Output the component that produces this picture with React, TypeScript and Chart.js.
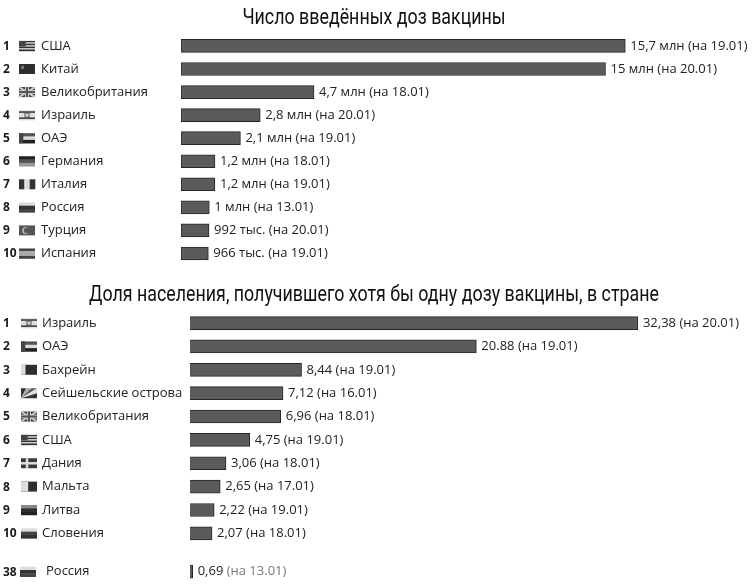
import { useEffect, useRef } from "react";
import { Chart, registerables } from "chart.js";

Chart.register(...registerables);

// Число введённых доз вакцины
const dosesRanks = ["1", "2", "3", "4", "5", "6", "7", "8", "9", "10"];
const dosesCountries = [
  "США",
  "Китай",
  "Великобритания",
  "Израиль",
  "ОАЭ",
  "Германия",
  "Италия",
  "Россия",
  "Турция",
  "Испания",
];
// млн доз
const dosesValues = [15.7, 15, 4.7, 2.8, 2.1, 1.2, 1.2, 1, 0.992, 0.966];
const dosesTexts = [
  "15,7 млн (на 19.01)",
  "15 млн (на 20.01)",
  "4,7 млн (на 18.01)",
  "2,8 млн (на 20.01)",
  "2,1 млн (на 19.01)",
  "1,2 млн (на 18.01)",
  "1,2 млн (на 19.01)",
  "1 млн (на 13.01)",
  "992 тыс. (на 20.01)",
  "966 тыс. (на 19.01)",
];

// Доля населения, получившего хотя бы одну дозу (%)
const shareRanks = ["1", "2", "3", "4", "5", "6", "7", "8", "9", "10"];
const shareCountries = [
  "Израиль",
  "ОАЭ",
  "Бахрейн",
  "Сейшельские острова",
  "Великобритания",
  "США",
  "Дания",
  "Мальта",
  "Литва",
  "Словения",
];
const shareValues = [32.38, 20.88, 8.44, 7.12, 6.96, 4.75, 3.06, 2.65, 2.22, 2.07];
const shareTexts = [
  "32,38 (на 20.01)",
  "20.88 (на 19.01)",
  "8,44 (на 19.01)",
  "7,12 (на 16.01)",
  "6,96 (на 18.01)",
  "4,75 (на 19.01)",
  "3,06 (на 18.01)",
  "2,65 (на 17.01)",
  "2,22 (на 19.01)",
  "2,07 (на 18.01)",
];

const russiaRanks = ["38"];
const russiaCountries = ["Россия"];
const russiaValues = [0.69];
const russiaTexts = ["0,69 (на 13.01)"];

const TITLE_FONT = "Roboto, 'DejaVu Sans Condensed', sans-serif";
const LABEL_FONT = "'Open Sans', 'Noto Sans', sans-serif";

type Ctx = CanvasRenderingContext2D;

function hStripes(ctx: Ctx, x: number, y: number, w: number, h: number, cols: string[], weights?: number[]) {
  const ws = weights || cols.map(() => 1);
  const total = ws.reduce((a, b) => a + b, 0);
  let cy = y;
  cols.forEach((c, i) => {
    const sh = (h * ws[i]) / total;
    ctx.fillStyle = c;
    ctx.fillRect(x, cy, w, sh + 0.3);
    cy += sh;
  });
}

function vStripes(ctx: Ctx, x: number, y: number, w: number, h: number, cols: string[]) {
  const sw = w / cols.length;
  cols.forEach((c, i) => {
    ctx.fillStyle = c;
    ctx.fillRect(x + i * sw, y, sw + 0.3, h);
  });
}

// rough grayscale flags
function drawFlag(ctx: Ctx, name: string, x: number, y: number, w: number, h: number) {
  ctx.save();
  switch (name) {
    case "США":
      hStripes(ctx, x, y, w, h, ["#333", "#ccc", "#333", "#ccc", "#333", "#ccc", "#333"]);
      ctx.fillStyle = "#444";
      ctx.fillRect(x, y, w * 0.42, h * 0.55);
      break;
    case "Китай":
      ctx.fillStyle = "#2e2e2e";
      ctx.fillRect(x, y, w, h);
      ctx.fillStyle = "#777";
      ctx.fillRect(x + 2, y + 2, 3, 3);
      break;
    case "Великобритания":
      ctx.fillStyle = "#3a3a3a";
      ctx.fillRect(x, y, w, h);
      ctx.strokeStyle = "#ccc";
      ctx.lineWidth = 2;
      ctx.beginPath();
      ctx.moveTo(x, y);
      ctx.lineTo(x + w, y + h);
      ctx.moveTo(x + w, y);
      ctx.lineTo(x, y + h);
      ctx.stroke();
      ctx.fillStyle = "#ccc";
      ctx.fillRect(x + w / 2 - 2, y, 4, h);
      ctx.fillRect(x, y + h / 2 - 2, w, 4);
      ctx.fillStyle = "#555";
      ctx.fillRect(x + w / 2 - 1, y, 2, h);
      ctx.fillRect(x, y + h / 2 - 1, w, 2);
      break;
    case "Израиль":
      hStripes(ctx, x, y, w, h, ["#ddd", "#444", "#ddd", "#444", "#ddd"], [1, 1.5, 4, 1.5, 1]);
      ctx.strokeStyle = "#555";
      ctx.lineWidth = 1;
      ctx.strokeRect(x + w / 2 - 2, y + h / 2 - 2, 4, 4);
      break;
    case "ОАЭ":
      hStripes(ctx, x, y, w, h, ["#555", "#ddd", "#222"]);
      ctx.fillStyle = "#444";
      ctx.fillRect(x, y, w * 0.27, h);
      break;
    case "Германия":
      hStripes(ctx, x, y, w, h, ["#222", "#555", "#999"]);
      break;
    case "Италия":
      vStripes(ctx, x, y, w, h, ["#333", "#ddd", "#333"]);
      break;
    case "Россия":
      hStripes(ctx, x, y, w, h, ["#ddd", "#333", "#444"]);
      break;
    case "Турция":
      ctx.fillStyle = "#555";
      ctx.fillRect(x, y, w, h);
      ctx.fillStyle = "#bbb";
      ctx.beginPath();
      ctx.arc(x + w * 0.42, y + h / 2, 3.5, 0, Math.PI * 2);
      ctx.fill();
      ctx.fillStyle = "#555";
      ctx.beginPath();
      ctx.arc(x + w * 0.49, y + h / 2, 2.8, 0, Math.PI * 2);
      ctx.fill();
      break;
    case "Испания":
      hStripes(ctx, x, y, w, h, ["#444", "#aaa", "#444"], [1, 2, 1]);
      break;
    case "Бахрейн":
      ctx.fillStyle = "#2e2e2e";
      ctx.fillRect(x, y, w, h);
      ctx.fillStyle = "#ddd";
      ctx.fillRect(x, y, w * 0.28, h);
      break;
    case "Сейшельские острова": {
      const cols = ["#333", "#aaa", "#555", "#ddd", "#333"];
      const pts: [number, number][] = [
        [x, y],
        [x + w * 0.33, y],
        [x + w * 0.66, y],
        [x + w, y],
        [x + w, y + h * 0.5],
        [x + w, y + h],
      ];
      for (let i = 0; i < 5; i++) {
        ctx.fillStyle = cols[i];
        ctx.beginPath();
        ctx.moveTo(x, y + h);
        ctx.lineTo(pts[i][0], pts[i][1]);
        ctx.lineTo(pts[i + 1][0], pts[i + 1][1]);
        ctx.closePath();
        ctx.fill();
      }
      break;
    }
    case "Дания":
      ctx.fillStyle = "#3a3a3a";
      ctx.fillRect(x, y, w, h);
      ctx.fillStyle = "#ddd";
      ctx.fillRect(x + w * 0.3, y, 2.5, h);
      ctx.fillRect(x, y + h / 2 - 1.2, w, 2.5);
      break;
    case "Мальта":
      ctx.fillStyle = "#2e2e2e";
      ctx.fillRect(x, y, w, h);
      ctx.fillStyle = "#ddd";
      ctx.fillRect(x, y, w * 0.45, h);
      break;
    case "Литва":
      hStripes(ctx, x, y, w, h, ["#888", "#2e2e2e", "#222"]);
      break;
    case "Словения":
      hStripes(ctx, x, y, w, h, ["#ddd", "#444", "#333"]);
      break;
    default:
      ctx.fillStyle = "#555";
      ctx.fillRect(x, y, w, h);
  }
  ctx.restore();
}

const rowLabels = {
  id: "rowLabels",
  afterDatasetsDraw(chart: any, _args: any, opts: any) {
    const { ctx } = chart;
    const meta = chart.getDatasetMeta(0);
    const yScale = chart.scales.y;
    ctx.save();
    ctx.textBaseline = "middle";
    ctx.textAlign = "left";
    meta.data.forEach((bar: any, i: number) => {
      const y = yScale.getPixelForValue(i);
      ctx.fillStyle = "#1a1a1a";
      ctx.font = `bold 12px ${LABEL_FONT}`;
      ctx.fillText(opts.ranks[i], opts.rankX, y + 0.5);
      drawFlag(ctx, opts.names[i], opts.flagX, y - 5, 16, 10);
      ctx.fillStyle = "#222";
      ctx.font = `13px ${LABEL_FONT}`;
      ctx.fillText(opts.names[i], opts.nameX, y);
      // value, then the date part (может быть светлее)
      const text: string = opts.texts[i];
      const cut = text.indexOf(" (");
      const head = text.slice(0, cut);
      const tail = text.slice(cut);
      const tx = bar.x + 5;
      ctx.fillText(head, tx, y);
      ctx.fillStyle = opts.dateColor || "#222";
      ctx.fillText(tail, tx + ctx.measureText(head).width, y);
    });
    ctx.restore();
  },
};

// title centred on the whole canvas, drawn condensed
const blockTitle = {
  id: "blockTitle",
  afterDraw(chart: any, _args: any, opts: any) {
    if (!opts.text) return;
    const { ctx } = chart;
    ctx.save();
    ctx.translate(opts.x, opts.y);
    ctx.scale(opts.condense, 1);
    ctx.font = `22px ${TITLE_FONT}`;
    ctx.fillStyle = "#111";
    ctx.textAlign = "center";
    ctx.textBaseline = "middle";
    ctx.fillText(opts.text, 0, 0);
    ctx.restore();
  },
};

interface BarBlockProps {
  ranks: string[];
  names: string[];
  values: number[];
  texts: string[];
  title?: string;
  top: number;
  height: number;
  left: number;
  right: number;
  min: number;
  max: number;
  flagX: number;
  nameX: number;
  bottomPad?: number;
  dateColor?: string;
}

const BarBlock = ({
  ranks,
  names,
  values,
  texts,
  title,
  top,
  height,
  left,
  right,
  min,
  max,
  flagX,
  nameX,
  bottomPad = 0,
  dateColor,
}: BarBlockProps) => {
  const canvasRef = useRef<HTMLCanvasElement>(null);
  const chartRef = useRef<Chart | null>(null);

  useEffect(() => {
    if (!canvasRef.current) return;
    if (chartRef.current) chartRef.current.destroy();

    chartRef.current = new Chart(canvasRef.current, {
      type: "bar",
      data: {
        labels: names,
        datasets: [
          {
            data: values,
            backgroundColor: "#5b5b5b",
            borderColor: "#262626",
            borderWidth: 1,
            borderSkipped: false,
            barThickness: 13,
          },
        ],
      },
      options: {
        indexAxis: "y",
        animation: false,
        responsive: false,
        layout: { padding: { left, right, top: title ? 34.4 : 0, bottom: bottomPad } },
        scales: {
          x: { display: false, min, max },
          y: { display: false },
        },
        plugins: {
          legend: { display: false },
          tooltip: { enabled: false },
          title: { display: false },
          blockTitle: { text: title, x: 374, y: 18, condense: 0.81 },
          rowLabels: { ranks, names, texts, rankX: 3, flagX, nameX, dateColor },
        } as any,
      },
      plugins: [rowLabels as any, blockTitle as any],
    });

    return () => {
      if (chartRef.current) {
        chartRef.current.destroy();
        chartRef.current = null;
      }
    };
  }, []);

  return (
    <canvas
      ref={canvasRef}
      width={756}
      height={height}
      style={{ position: "absolute", left: 0, top, width: 756, height }}
    ></canvas>
  );
};

const App = () => {
  return (
    <div
      style={{
        position: "absolute",
        left: 0,
        top: 0,
        width: 756,
        height: 586,
        background: "#fff",
        overflow: "hidden",
      }}
    >
      <BarBlock
        ranks={dosesRanks}
        names={dosesCountries}
        values={dosesValues}
        texts={dosesTexts}
        title="Число введённых доз вакцины"
        top={0}
        height={266}
        left={181}
        right={9}
        min={0}
        max={20}
        flagX={19}
        nameX={41}
        bottomPad={1}
      />
      <BarBlock
        ranks={shareRanks}
        names={shareCountries}
        values={shareValues}
        texts={shareTexts}
        title="Доля населения, получившего хотя бы одну дозу вакцины, в стране"
        top={277}
        height={268}
        left={190}
        right={11}
        min={0.5}
        max={40}
        flagX={21}
        nameX={42}
      />
      <BarBlock
        ranks={russiaRanks}
        names={russiaCountries}
        values={russiaValues}
        texts={russiaTexts}
        top={560}
        height={24}
        left={190}
        right={11}
        min={0.5}
        max={40}
        flagX={20}
        nameX={46}
        bottomPad={0.6}
        dateColor="#777"
      />
    </div>
  );
};

export default App;
